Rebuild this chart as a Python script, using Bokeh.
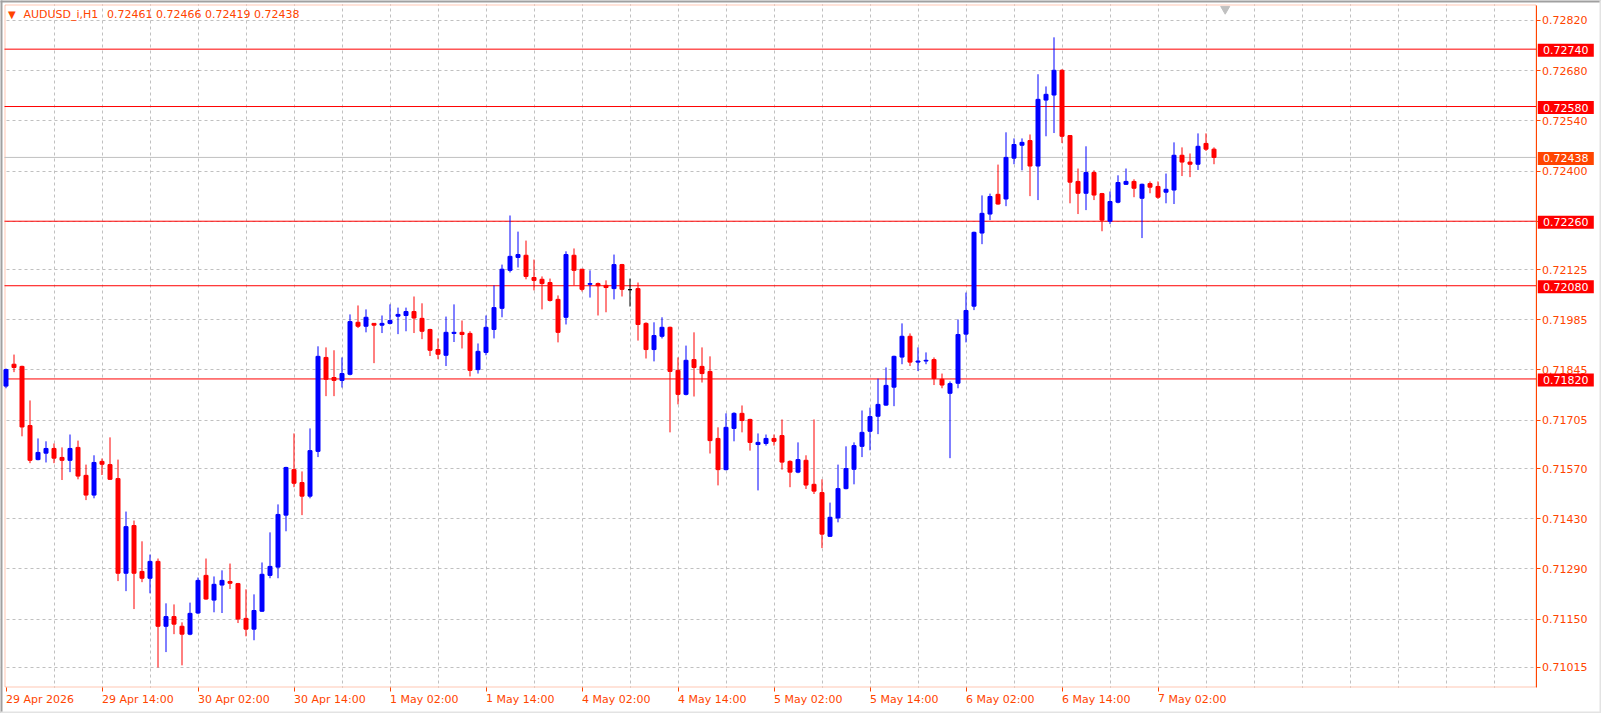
from bokeh.plotting import figure
from bokeh.models import (FixedTicker, Label, ColumnDataSource, Range1d, NumeralTickFormatter,
                          BoxAnnotation)
from bokeh.core.properties import value
from bokeh.embed import file_html
from bokeh.resources import INLINE

# ---------------- data ----------------
symbol = "AUDUSD_i,H1"
opens = [0.71800,0.71861,0.71855,0.71690,0.71595,0.71613,0.71626,0.71601,0.71593,0.71629,
         0.71551,0.71496,0.71590,0.71581,0.71542,0.71278,0.71411,0.71283,0.71264,0.71311,
         0.71130,0.71157,0.71130,0.71108,0.71167,0.71272,0.71203,0.71245,0.71255,0.71249,
         0.71152,0.71122,0.71172,0.71272,0.71295,0.71440,0.71567,0.71531,0.71493,0.71618,
         0.71880,0.71824,0.71816,0.71833,0.71978,0.71967,0.71975,0.71970,0.71975,0.71995,
         0.71997,0.72008,0.71989,0.71958,0.71902,0.71886,0.71947,0.71950,0.71947,0.71846,
         0.71894,0.71958,0.72017,0.72123,0.72159,0.72165,0.72103,0.72098,0.72089,0.72042,
         0.71992,0.72165,0.72126,0.72084,0.72086,0.72081,0.72072,0.72139,0.72069,0.72072,
         0.71975,0.71902,0.71939,0.71964,0.71844,0.71777,0.71874,0.71855,0.71841,0.71654,
         0.71567,0.71682,0.71724,0.71707,0.71637,0.71640,0.71654,0.71662,0.71590,0.71560,
         0.71593,0.71526,0.71503,0.71381,0.71432,0.71514,0.71568,0.71632,0.71674,0.71716,
         0.71747,0.71797,0.71881,0.71939,0.71867,0.71870,0.71874,0.71819,0.71780,0.71808,
         0.71945,0.72023,0.72227,0.72280,0.72335,0.72322,0.72436,0.72472,0.72485,0.72414,
         0.72598,0.72612,0.72681,0.72499,0.72371,0.72338,0.72396,0.72337,0.72260,0.72313,
         0.72363,0.72371,0.72324,0.72365,0.72357,0.72341,0.72347,0.72444,0.72425,0.72419,
         0.72477,0.72461]
highs = [0.71849,0.71888,0.71857,0.71760,0.71654,0.71646,0.71640,0.71629,0.71665,0.71648,
         0.71581,0.71607,0.71598,0.71657,0.71595,0.71450,0.71425,0.71367,0.71330,0.71319,
         0.71194,0.71191,0.71141,0.71196,0.71266,0.71319,0.71269,0.71286,0.71305,0.71251,
         0.71233,0.71219,0.71308,0.71392,0.71470,0.71575,0.71668,0.71562,0.71682,0.71911,
         0.71908,0.71900,0.71880,0.72000,0.72025,0.72014,0.71976,0.71997,0.72028,0.72019,
         0.72019,0.72050,0.72031,0.71960,0.71933,0.71994,0.72028,0.71983,0.71953,0.71919,
         0.71997,0.72081,0.72139,0.72276,0.72231,0.72206,0.72153,0.72106,0.72100,0.72053,
         0.72176,0.72184,0.72127,0.72123,0.72089,0.72095,0.72167,0.72141,0.72100,0.72089,
         0.71978,0.71978,0.71992,0.71966,0.71880,0.71913,0.71950,0.71908,0.71883,0.71685,
         0.71724,0.71727,0.71746,0.71709,0.71668,0.71665,0.71665,0.71707,0.71593,0.71643,
         0.71607,0.71707,0.71540,0.71475,0.71581,0.71632,0.71643,0.71732,0.71740,0.71821,
         0.71852,0.71885,0.71975,0.71947,0.71908,0.71894,0.71880,0.71835,0.71813,0.71986,
         0.72061,0.72231,0.72332,0.72337,0.72418,0.72508,0.72491,0.72491,0.72502,0.72670,
         0.72636,0.72773,0.72684,0.72500,0.72407,0.72469,0.72402,0.72339,0.72343,0.72388,
         0.72407,0.72377,0.72365,0.72371,0.72371,0.72393,0.72480,0.72466,0.72449,0.72505,
         0.72505,0.72466]
lows = [0.71794,0.71839,0.71660,0.71585,0.71593,0.71587,0.71585,0.71538,0.71560,0.71540,
        0.71482,0.71487,0.71552,0.71538,0.71256,0.71228,0.71178,0.71253,0.71222,0.71015,
        0.71058,0.71108,0.71021,0.71105,0.71164,0.71204,0.71169,0.71167,0.71234,0.71139,
        0.71102,0.71091,0.71170,0.71264,0.71264,0.71395,0.71518,0.71440,0.71487,0.71602,
        0.71772,0.71772,0.71796,0.71830,0.71962,0.71950,0.71864,0.71948,0.71972,0.71945,
        0.71953,0.71948,0.71931,0.71884,0.71875,0.71856,0.71923,0.71905,0.71827,0.71835,
        0.71886,0.71933,0.71992,0.72117,0.72131,0.72098,0.72067,0.72014,0.72036,0.71922,
        0.71972,0.72081,0.72064,0.72047,0.71997,0.72006,0.72042,0.72050,0.72022,0.71927,
        0.71877,0.71869,0.71933,0.71671,0.71749,0.71774,0.71771,0.71810,0.71612,0.71523,
        0.71565,0.71646,0.71671,0.71620,0.71509,0.71634,0.71634,0.71567,0.71518,0.71557,
        0.71513,0.71499,0.71348,0.71379,0.71420,0.71512,0.71526,0.71602,0.71621,0.71666,
        0.71745,0.71744,0.71861,0.71856,0.71842,0.71861,0.71803,0.71794,0.71599,0.71794,
        0.71922,0.72012,0.72196,0.72263,0.72306,0.72302,0.72419,0.72402,0.72330,0.72319,
        0.72497,0.72506,0.72478,0.72310,0.72280,0.72291,0.72319,0.72232,0.72252,0.72310,
        0.72361,0.72327,0.72213,0.72338,0.72322,0.72310,0.72308,0.72386,0.72383,0.72403,
        0.72456,0.72419]
closes = [0.71846,0.71852,0.71686,0.71593,0.71615,0.71626,0.71599,0.71593,0.71626,0.71549,
          0.71496,0.71587,0.71582,0.71540,0.71278,0.71408,0.71278,0.71264,0.71311,0.71130,
          0.71157,0.71136,0.71108,0.71166,0.71258,0.71206,0.71247,0.71258,0.71250,0.71150,
          0.71122,0.71174,0.71275,0.71297,0.71442,0.71573,0.71529,0.71493,0.71620,0.71883,
          0.71819,0.71816,0.71835,0.71980,0.71967,0.71992,0.71970,0.71975,0.71983,0.72000,
          0.72008,0.71990,0.71953,0.71900,0.71889,0.71950,0.71950,0.71944,0.71844,0.71897,
          0.71964,0.72019,0.72126,0.72162,0.72167,0.72106,0.72095,0.72086,0.72039,0.71950,
          0.72167,0.72123,0.72070,0.72086,0.72080,0.72075,0.72139,0.72070,0.72069,0.71972,
          0.71902,0.71941,0.71964,0.71841,0.71777,0.71872,0.71852,0.71835,0.71648,0.71567,
          0.71685,0.71724,0.71704,0.71643,0.71643,0.71654,0.71646,0.71588,0.71560,0.71595,
          0.71524,0.71507,0.71387,0.71434,0.71514,0.71570,0.71634,0.71671,0.71715,0.71749,
          0.71802,0.71883,0.71939,0.71867,0.71870,0.71872,0.71821,0.71803,0.71807,0.71944,
          0.72011,0.72229,0.72282,0.72329,0.72308,0.72438,0.72474,0.72480,0.72414,0.72600,
          0.72614,0.72681,0.72497,0.72369,0.72338,0.72396,0.72333,0.72263,0.72315,0.72368,
          0.72371,0.72352,0.72363,0.72355,0.72327,0.72349,0.72444,0.72425,0.72419,0.72469,
          0.72461,0.72438]

time_tick_bars = [0, 12, 24, 36, 48, 60, 72, 84, 96, 108, 120, 132, 144]
time_tick_labels = ["29 Apr 2026", "29 Apr 14:00", "30 Apr 02:00", "30 Apr 14:00",
                    "1 May 02:00", "1 May 14:00", "4 May 02:00", "4 May 14:00",
                    "5 May 02:00", "5 May 14:00", "6 May 02:00", "6 May 14:00", "7 May 02:00"]
price_ticks = [0.72820, 0.72680, 0.72540, 0.72400, 0.72260, 0.72125, 0.71985,
               0.71845, 0.71705, 0.71570, 0.71430, 0.71290, 0.71150, 0.71015]
level_lines = [0.72740, 0.72580, 0.72260, 0.72080, 0.71820]

# ---------------- styling / geometry ----------------
AX = "#FF4500"
BULL, BEAR, DOJI = "#0000FF", "#FF0000", "#000000"
GRID = "#C0C0C0"
FONT = "DejaVu Sans"

W, H = 1601, 713
PX_PER_BAR = 8.0
X0 = -5.5 / PX_PER_BAR               # bar units at the left edge of the page
X1 = X0 + W / PX_PER_BAR
PPU = 683 / (0.728646 - 0.709592)    # pixels per price unit
YT = 0.728646 + 4 / PPU              # price at the top edge of the page
YB = YT - H / PPU


def sx(px):
    """page x (px) -> bar units"""
    return X0 + px / PX_PER_BAR


def sy(py):
    """page y (px) -> price units"""
    return YT - py / PPU


n = len(opens)
xs = list(range(n))
colors = [BULL if c > o else (BEAR if c < o else DOJI) for o, c in zip(opens, closes)]
src = ColumnDataSource(dict(
    x=xs, o=opens, h=highs, l=lows, c=closes,
    top=[max(o, c) for o, c in zip(opens, closes)],
    bot=[min(o, c) for o, c in zip(opens, closes)],
    color=colors))

p = figure(frame_width=W, frame_height=H, output_backend="svg", toolbar_location=None,
           x_range=Range1d(X0, X1), y_range=Range1d(YB, YT),
           y_axis_location="right", x_axis_location="below",
           min_border_left=0, min_border_right=0, min_border_top=0, min_border_bottom=0)
p.background_fill_color = "white"
p.border_fill_color = "white"
p.outline_line_color = None

XB = sx(1535.5)   # right border of the chart area

# grids
p.xgrid.ticker = FixedTicker(ticks=list(range(6, int(XB), 6)))
p.ygrid.ticker = FixedTicker(ticks=price_ticks)
for g in (p.xgrid, p.ygrid):
    g.grid_line_color = GRID
    g.grid_line_dash = "3 3"
    g.grid_line_width = 1
# blank everything outside the chart area (grid must stop at the border)
for kw in (dict(right=sx(4)), dict(left=XB), dict(bottom=sy(4)), dict(top=sy(687))):
    p.add_layout(BoxAnnotation(fill_color="white", fill_alpha=1.0, line_color=None,
                               level="underlay", **kw))
# chart border (left/top/bottom; right one is the price axis line)
p.add_layout(BoxAnnotation(left=sx(4.5), right=XB, bottom=sy(686.5), top=sy(4.5),
                           fill_alpha=0, line_color=AX, line_width=1, level="underlay"))

# x axis (time)
xa = p.xaxis[0]
xa.fixed_location = sy(686.5)
xa.ticker = FixedTicker(ticks=time_tick_bars)
xa.major_label_overrides = {b: t for b, t in zip(time_tick_bars, time_tick_labels)}
xa.major_label_orientation = -0.0001
xa.axis_line_color = None
# y axis (price) drawn on the right border
ya = p.yaxis[0]
ya.fixed_location = XB
ya.ticker = FixedTicker(ticks=price_ticks)
ya.formatter = NumeralTickFormatter(format="0.00000")
ya.major_label_overrides = {0.7226: ""}
ya.axis_line_color = AX
ya.bounds = (sy(686.5), sy(4.5))
for a in (xa, ya):
    a.major_tick_line_color = AX
    a.minor_tick_line_color = None
    a.major_tick_out = 4
    a.major_tick_in = 0
    a.major_label_text_color = AX
    a.major_label_text_font = FONT
    a.major_label_text_font_size = "11px"
xa.major_label_standoff = 8
ya.major_label_standoff = 2

# level lines and current price line
p.segment(x0=[sx(4)] * len(level_lines), x1=[XB] * len(level_lines), y0=level_lines,
          y1=level_lines, line_color="#FF0000", line_width=1)
p.segment(x0=[sx(4)], x1=[XB], y0=[closes[-1]], y1=[closes[-1]], line_color=GRID, line_width=1)

# candles
p.segment(x0="x", y0="l", x1="x", y1="h", source=src, line_color="color", line_width=1)
p.vbar(x="x", width=0.5, top="top", bottom="bot", source=src,
       fill_color="color", line_color="color", line_width=1)

# chart shift marker
p.scatter(x=[n + 0.4], y=[sy(8.5)], marker="inverted_triangle", size=9,
          fill_color=GRID, line_color=GRID)

# price labels on the right (boxes drawn on top of the axis labels)
box_levels = level_lines + [closes[-1]]
box_colors = ["#FF0000"] * len(level_lines) + [AX]
box_src = ColumnDataSource(dict(
    y=box_levels, color=box_colors, text=[f"{v:.5f}" for v in box_levels],
    top=[v + 5.5 / PPU for v in box_levels], bot=[v - 7.5 / PPU for v in box_levels]))
p.quad(left=sx(1537.3), right=sx(1593.3), top="top", bottom="bot", source=box_src,
       fill_color="color", line_color=None, level="overlay")
p.text(x=sx(1542.5), y="y", text="text", source=box_src, text_color="white",
       text_font=value(FONT), text_font_size="11px", text_baseline="middle",
       text_align="left", y_offset=1, level="overlay")

# window frame (sunken border of the chart window)
p.quad(left=[sx(0), sx(0)], right=[sx(2), sx(W)], top=[sy(0), sy(0)], bottom=[sy(H), sy(2)],
       fill_color="#A0A0A0", line_color=None, level="overlay")
p.quad(left=[sx(W - 2), sx(0)], right=[sx(W), sx(W)], top=[sy(0), sy(H - 2)],
       bottom=[sy(H), sy(H)], fill_color="#E3E3E3", line_color=None, level="overlay")

# header
hy = 0.72820 + 5.5 / PPU
p.add_layout(Label(x=sx(7.5), y=hy, text="\u25BC", text_color=AX,
                   text_font=FONT, text_font_size="10px", text_baseline="middle", text_align="left"))
p.add_layout(Label(x=sx(23), y=hy, text=symbol, text_color=AX,
                   text_font=FONT, text_font_size="11px", text_baseline="middle", text_align="left"))
p.add_layout(Label(x=sx(106.5), y=hy,
                   text=f"{opens[-1]:.5f} {highs[-1]:.5f} {lows[-1]:.5f} {closes[-1]:.5f}",
                   text_color=AX, text_font=FONT, text_font_size="11px",
                   text_baseline="middle", text_align="left"))

open("out.html", "w").write(file_html(p, INLINE))
